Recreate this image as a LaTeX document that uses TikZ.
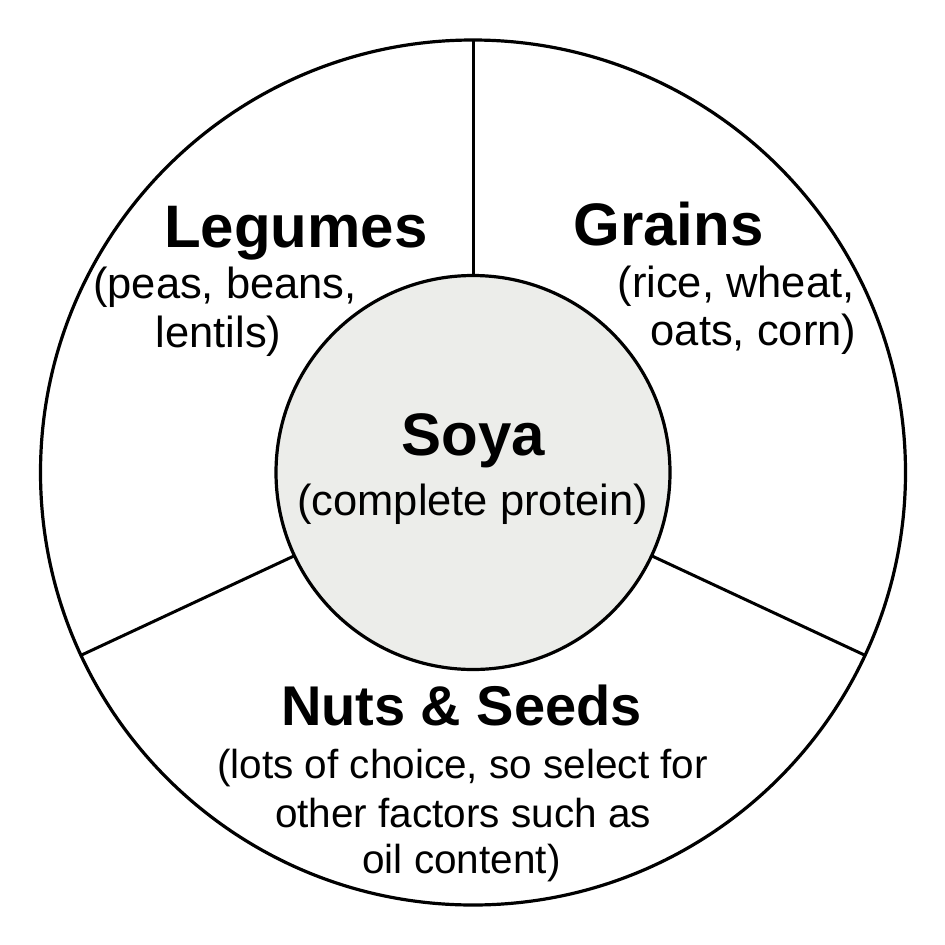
\documentclass[tikz,border=0pt]{standalone}
\usepackage{fontspec}
\setmainfont{Liberation Sans}
\definecolor{soyafill}{RGB}{236,237,234}
\begin{document}
\begin{tikzpicture}[x=1pt,y=-1pt,
  ring/.style={draw=black,line width=3.2pt,circle,inner sep=0pt,outer sep=0pt},
  divider/.style={draw=black,line width=3pt},
  title/.style={inner sep=0pt,anchor=base,font=\fontsize{60}{72}\selectfont\bfseries},
  sub/.style={inner sep=0pt,anchor=base,font=\fontsize{43.5}{50}\selectfont},
  ntitle/.style={inner sep=0pt,anchor=base,font=\fontsize{56}{67}\selectfont\bfseries},
  nsub/.style={inner sep=0pt,anchor=base,font=\fontsize{40.5}{47}\selectfont}]
\useasboundingbox[fill=white] (0,0) rectangle (945,945);
\node[ring,fill=white,minimum size=865pt] (outer) at (473,472.5) {};
\node[ring,fill=soyafill,minimum size=394pt] (soya) at (473,472.5) {};
\draw[divider] (soya.90) -- (outer.90);
\draw[divider] (soya.205) -- (outer.205);
\draw[divider] (soya.-25) -- (outer.-25);
\node[title] (leg) at (296,247) {Legumes};
\node[sub] (leg1) at (225,298) {(peas, beans,};
\node[sub] (leg2) at (218.5,347) {lentils)};
\node[title] (gra) at (668.5,245) {Grains};
\node[sub] (gra1) at (736,297) {(rice, wheat,};
\node[sub] (gra2) at (753.5,345) {oats, corn)};
\node[title] (soy) at (473.5,455) {Soya};
\node[sub] (soy1) at (472.5,515) {(complete protein)};
\node[ntitle] (nut) at (461.5,725) {Nuts \& Seeds};
\node[nsub] (nut1) at (462.5,778) {(lots of choice, so select for};
\node[nsub] (nut2) at (463,827) {other factors such as};
\node[nsub] (nut3) at (461.5,873) {oil content)};
\end{tikzpicture}
\end{document}
